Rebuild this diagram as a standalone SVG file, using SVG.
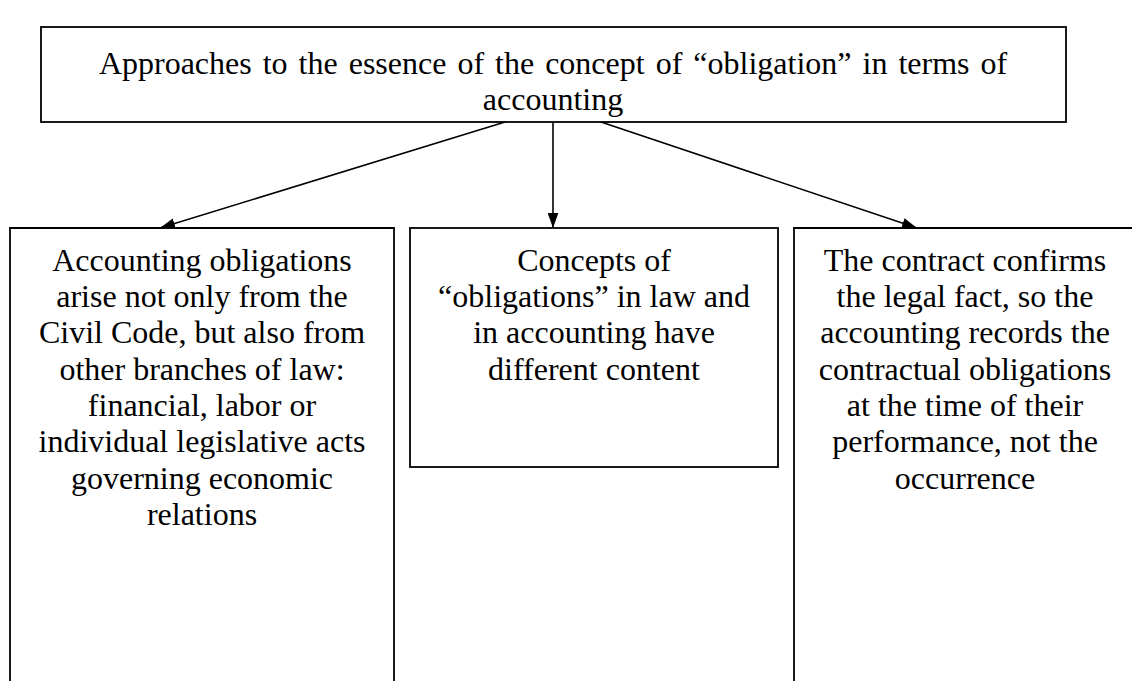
<svg xmlns="http://www.w3.org/2000/svg" width="1132" height="681" viewBox="0 0 1132 681">
<style>
.box{fill:#fff;stroke:#000;stroke-width:1.8}
.t{font-family:"Liberation Serif","Times New Roman",serif;font-size:32px;fill:#000;text-anchor:middle}
.c{stroke:#000;stroke-width:1.6;fill:none}
</style>
<defs>
<marker id="ah2" viewBox="0 0 14 10" refX="14" refY="5" markerWidth="15" markerHeight="11" markerUnits="userSpaceOnUse" orient="auto">
<path d="M0,0 L14,5 L0,10 Z" fill="#000"/>
</marker>
</defs>
<rect width="1132" height="681" fill="#fff"/>
<g id="top">
<rect class="box" x="41" y="27" width="1025" height="95"/>
<text class="t" x="553" y="74" word-spacing="3">Approaches to the essence of the concept of “obligation” in terms of</text>
<text class="t" x="553" y="110">accounting</text>
</g>
<g id="n1">
<path class="box" d="M10,690 L10,228 L394,228 L394,690"/>
<text class="t" x="202" y="271">Accounting obligations</text>
<text class="t" x="202" y="307">arise not only from the</text>
<text class="t" x="202" y="343">Civil Code, but also from</text>
<text class="t" x="202" y="380">other branches of law:</text>
<text class="t" x="202" y="416">financial, labor or</text>
<text class="t" x="202" y="452">individual legislative acts</text>
<text class="t" x="202" y="489">governing economic</text>
<text class="t" x="202" y="525">relations</text>
</g>
<g id="n2">
<rect class="box" x="410" y="228" width="368" height="239"/>
<text class="t" x="594" y="271">Concepts of</text>
<text class="t" x="594" y="307">“obligations” in law and</text>
<text class="t" x="594" y="343">in accounting have</text>
<text class="t" x="594" y="380">different content</text>
</g>
<g id="n3">
<path class="box" d="M794,690 L794,228 L1140,228"/>
<text class="t" x="965" y="271">The contract confirms</text>
<text class="t" x="965" y="307">the legal fact, so the</text>
<text class="t" x="965" y="343">accounting records the</text>
<text class="t" x="965" y="380">contractual obligations</text>
<text class="t" x="965" y="416">at the time of their</text>
<text class="t" x="965" y="452">performance, not the</text>
<text class="t" x="965" y="489">occurrence</text>
</g>
<g id="connectors">
<line class="c" x1="505" y1="122" x2="160" y2="228" marker-end="url(#ah2)"/>
<line class="c" x1="553" y1="122" x2="553" y2="228" marker-end="url(#ah2)"/>
<line class="c" x1="601" y1="122" x2="917" y2="228" marker-end="url(#ah2)"/>
</g>
</svg>
